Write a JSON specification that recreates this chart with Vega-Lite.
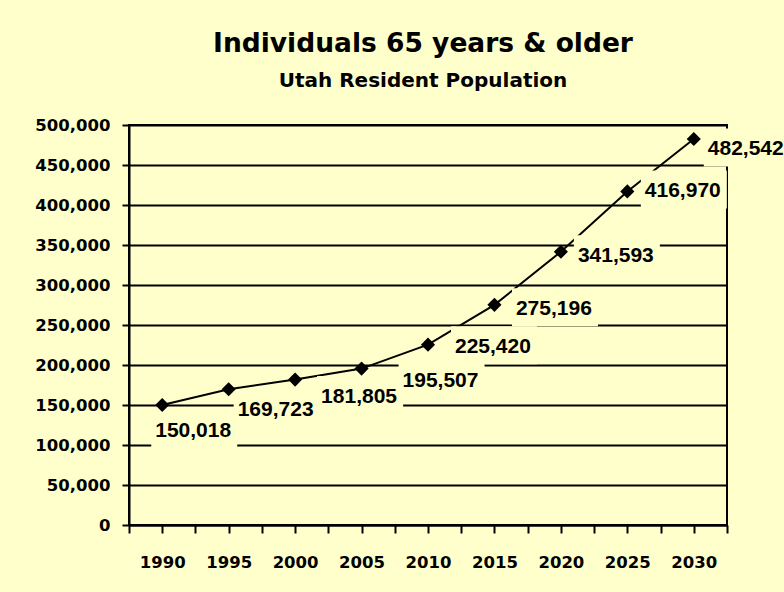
{
  "$schema": "https://vega.github.io/schema/vega-lite/v6.json",
  "width": 598,
  "height": 400,
  "autosize": {"type": "none"},
  "padding": {"left": 129, "top": 125, "right": 57, "bottom": 67},
  "background": "#FFFFCC",
  "title": {
    "text": "Individuals 65 years & older",
    "subtitle": "Utah Resident Population",
    "anchor": "middle",
    "frame": "group",
    "dx": -5,
    "font": "DejaVu Sans",
    "fontSize": 26.5,
    "fontWeight": "bold",
    "color": "black",
    "subtitleFont": "DejaVu Sans",
    "subtitleFontSize": 20,
    "subtitleFontWeight": "bold",
    "subtitleColor": "black",
    "offset": 26,
    "subtitlePadding": 14
  },
  "data": {
    "values": [
      {"year": 1990, "population": 150018},
      {"year": 1995, "population": 169723},
      {"year": 2000, "population": 181805},
      {"year": 2005, "population": 195507},
      {"year": 2010, "population": 225420},
      {"year": 2015, "population": 275196},
      {"year": 2020, "population": 341593},
      {"year": 2025, "population": 416970},
      {"year": 2030, "population": 482542}
    ]
  },
  "encoding": {
    "x": {
      "field": "year",
      "type": "quantitative",
      "scale": {"domain": [1987.5, 2032.5], "nice": false, "zero": false},
      "axis": {
        "title": null,
        "grid": false,
        "values": [1987.5, 1990, 1992.5, 1995, 1997.5, 2000, 2002.5, 2005, 2007.5, 2010, 2012.5, 2015, 2017.5, 2020, 2022.5, 2025, 2027.5, 2030, 2032.5],
        "labelExpr": "datum.value % 5 === 0 ? datum.value : ''",
        "domainColor": "black",
        "domainWidth": 2,
        "tickColor": "black",
        "tickWidth": 2,
        "tickSize": 8,
        "labelFont": "DejaVu Sans",
        "labelFontSize": 16.5,
        "labelFontWeight": "bold",
        "labelColor": "black",
        "labelPadding": 21,
        "labelFlush": false,
        "labelOverlap": false
      }
    },
    "y": {
      "field": "population",
      "type": "quantitative",
      "scale": {"domain": [0, 500000], "nice": false},
      "axis": {
        "title": null,
        "values": [0, 50000, 100000, 150000, 200000, 250000, 300000, 350000, 400000, 450000, 500000],
        "labelExpr": "format(datum.value, ',.0f')",
        "grid": true,
        "gridColor": "black",
        "gridWidth": 2,
        "gridOpacity": 1,
        "domainColor": "black",
        "domainWidth": 2,
        "tickColor": "black",
        "tickWidth": 2,
        "tickSize": 7,
        "labelFont": "DejaVu Sans",
        "labelFontSize": 16.5,
        "labelFontWeight": "bold",
        "labelColor": "black",
        "labelPadding": 12,
        "labelOverlap": false
      }
    }
  },
  "layer": [
    {"mark": {"type": "line", "color": "black", "strokeWidth": 2}},
    {
      "transform": [{"filter": "datum.year === 1990"}],
      "layer": [
        {"mark": {"type": "rect", "fill": "#FFFFCC", "xOffset": -11, "x2Offset": 75, "yOffset": 5.5, "y2Offset": 43.5},
         "encoding": {"x2": {"field": "year"}, "y2": {"field": "population"}}},
        {"mark": {"type": "text", "align": "left", "baseline": "alphabetic", "dx": -7, "dy": 32, "font": "Liberation Sans", "fontSize": 21, "fontWeight": "bold", "color": "black"},
         "encoding": {"text": {"field": "population", "type": "quantitative", "format": ",.0f"}}}
      ]
    },
    {
      "transform": [{"filter": "datum.year === 1995"}],
      "layer": [
        {"mark": {"type": "rect", "fill": "#FFFFCC", "xOffset": 5, "x2Offset": 91, "yOffset": 0.5, "y2Offset": 38.5},
         "encoding": {"x2": {"field": "year"}, "y2": {"field": "population"}}},
        {"mark": {"type": "text", "align": "left", "baseline": "alphabetic", "dx": 9, "dy": 27, "font": "Liberation Sans", "fontSize": 21, "fontWeight": "bold", "color": "black"},
         "encoding": {"text": {"field": "population", "type": "quantitative", "format": ",.0f"}}}
      ]
    },
    {
      "transform": [{"filter": "datum.year === 2000"}],
      "layer": [
        {"mark": {"type": "rect", "fill": "#FFFFCC", "xOffset": 22, "x2Offset": 108, "yOffset": -3.5, "y2Offset": 34.5},
         "encoding": {"x2": {"field": "year"}, "y2": {"field": "population"}}},
        {"mark": {"type": "text", "align": "left", "baseline": "alphabetic", "dx": 26, "dy": 23, "font": "Liberation Sans", "fontSize": 21, "fontWeight": "bold", "color": "black"},
         "encoding": {"text": {"field": "population", "type": "quantitative", "format": ",.0f"}}}
      ]
    },
    {
      "transform": [{"filter": "datum.year === 2005"}],
      "layer": [
        {"mark": {"type": "rect", "fill": "#FFFFCC", "xOffset": 37, "x2Offset": 123, "yOffset": -8.5, "y2Offset": 29.5},
         "encoding": {"x2": {"field": "year"}, "y2": {"field": "population"}}},
        {"mark": {"type": "text", "align": "left", "baseline": "alphabetic", "dx": 41, "dy": 18, "font": "Liberation Sans", "fontSize": 21, "fontWeight": "bold", "color": "black"},
         "encoding": {"text": {"field": "population", "type": "quantitative", "format": ",.0f"}}}
      ]
    },
    {
      "transform": [{"filter": "datum.year === 2010"}],
      "layer": [
        {"mark": {"type": "rect", "fill": "#FFFFCC", "xOffset": 23, "x2Offset": 109, "yOffset": -18.5, "y2Offset": 19.5},
         "encoding": {"x2": {"field": "year"}, "y2": {"field": "population"}}},
        {"mark": {"type": "text", "align": "left", "baseline": "alphabetic", "dx": 27, "dy": 8, "font": "Liberation Sans", "fontSize": 21, "fontWeight": "bold", "color": "black"},
         "encoding": {"text": {"field": "population", "type": "quantitative", "format": ",.0f"}}}
      ]
    },
    {
      "transform": [{"filter": "datum.year === 2015"}],
      "layer": [
        {"mark": {"type": "rect", "fill": "#FFFFCC", "xOffset": 17.5, "x2Offset": 103.5, "yOffset": -16.5, "y2Offset": 21.5},
         "encoding": {"x2": {"field": "year"}, "y2": {"field": "population"}}},
        {"mark": {"type": "text", "align": "left", "baseline": "alphabetic", "dx": 21.5, "dy": 10, "font": "Liberation Sans", "fontSize": 21, "fontWeight": "bold", "color": "black"},
         "encoding": {"text": {"field": "population", "type": "quantitative", "format": ",.0f"}}}
      ]
    },
    {
      "transform": [{"filter": "datum.year === 2020"}],
      "layer": [
        {"mark": {"type": "rect", "fill": "#FFFFCC", "xOffset": 13, "x2Offset": 99, "yOffset": -16.5, "y2Offset": 21.5},
         "encoding": {"x2": {"field": "year"}, "y2": {"field": "population"}}},
        {"mark": {"type": "text", "align": "left", "baseline": "alphabetic", "dx": 17, "dy": 10, "font": "Liberation Sans", "fontSize": 21, "fontWeight": "bold", "color": "black"},
         "encoding": {"text": {"field": "population", "type": "quantitative", "format": ",.0f"}}}
      ]
    },
    {
      "transform": [{"filter": "datum.year === 2025"}],
      "layer": [
        {"mark": {"type": "rect", "fill": "#FFFFCC", "xOffset": 13.5, "x2Offset": 99.5, "yOffset": -20.9, "y2Offset": 17.1},
         "encoding": {"x2": {"field": "year"}, "y2": {"field": "population"}}},
        {"mark": {"type": "text", "align": "left", "baseline": "alphabetic", "dx": 17.5, "dy": 5.6, "font": "Liberation Sans", "fontSize": 21, "fontWeight": "bold", "color": "black"},
         "encoding": {"text": {"field": "population", "type": "quantitative", "format": ",.0f"}}}
      ]
    },
    {
      "transform": [{"filter": "datum.year === 2030"}],
      "layer": [
        {"mark": {"type": "rect", "fill": "#FFFFCC", "xOffset": 10, "x2Offset": 96, "yOffset": -10.5, "y2Offset": 27.5},
         "encoding": {"x2": {"field": "year"}, "y2": {"field": "population"}}},
        {"mark": {"type": "text", "align": "left", "baseline": "alphabetic", "dx": 14, "dy": 16, "font": "Liberation Sans", "fontSize": 21, "fontWeight": "bold", "color": "black"},
         "encoding": {"text": {"field": "population", "type": "quantitative", "format": ",.0f"}}}
      ]
    },
    {"mark": {"type": "point", "shape": "diamond", "filled": true, "color": "black", "size": 200, "opacity": 1}}
  ],
  "config": {
    "view": {"stroke": "black", "strokeWidth": 2}
  }
}
